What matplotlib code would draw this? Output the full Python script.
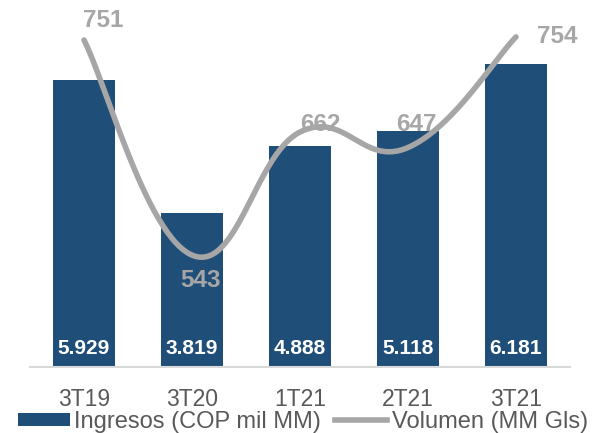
import numpy as np
import matplotlib.pyplot as plt
from matplotlib.patches import Patch
from matplotlib.lines import Line2D

plt.rcParams['font.family'] = ['Liberation Sans', 'DejaVu Sans']

# Data
periodos = ['3T19', '3T20', '1T21', '2T21', '3T21']
ingresos = [5.929, 3.819, 4.888, 5.118, 6.181]
volumen = [751, 543, 662, 647, 754]
ingresos_txt = ['5.929', '3.819', '4.888', '5.118', '6.181']

azul = '#1F4E79'
gris = '#A6A6A6'
texto = '#595959'


def suavizar(xs, ys, n=60, k=0.21):
    # Excel-like smooth line: cubic Bezier segments with Catmull-Rom style control points
    p = np.column_stack([xs, ys]).astype(float)
    out = []
    for i in range(len(p) - 1):
        p0 = p[i - 1] if i > 0 else p[i]
        p1, p2 = p[i], p[i + 1]
        p3 = p[i + 2] if i + 2 < len(p) else p[i + 1]
        c1 = p1 + (p2 - p0) * k
        c2 = p2 - (p3 - p1) * k
        t = np.linspace(0, 1, n)[:, None]
        seg = (1 - t) ** 3 * p1 + 3 * (1 - t) ** 2 * t * c1 + 3 * (1 - t) * t ** 2 * c2 + t ** 3 * p2
        out.append(seg)
    out = np.vstack(out)
    return out[:, 0], out[:, 1]


fig = plt.figure(figsize=(5.94, 4.33), dpi=100)
ax = fig.add_axes([30 / 594, 66 / 433, 540 / 594, 357 / 433])
x = np.arange(len(periodos))

ax.bar(x, ingresos, width=0.57, color=azul, zorder=2)
ax.set_xlim(-0.5, 4.5)
ax.set_ylim(1.374, 7.04)
for xi, v, t in zip(x, ingresos, ingresos_txt):
    ax.annotate(t, (xi, 1.374), xytext=(0, 18), textcoords='offset pixels',
                ha='center', va='center', color='white', fontsize=15, fontweight='bold', zorder=4)

ax2 = ax.twinx()
ax2.set_ylim(434.8, 780)
sx, sy = suavizar(x, volumen)
ax2.plot(sx, sy, color=gris, lw=4.0, solid_capstyle='round', zorder=3)
offsets = [(19, 19), (9, -25), (20, 8), (8, 23), (41, 0)]
for xi, v, off in zip(x, volumen, offsets):
    ax2.annotate(str(v), (xi, v), xytext=off, textcoords='offset pixels',
                 ha='center', va='center', color=gris, fontsize=17.5, fontweight='bold')

for a in (ax, ax2):
    for s in ('top', 'left', 'right'):
        a.spines[s].set_visible(False)
    a.set_yticks([])
ax2.spines['bottom'].set_visible(False)
ax.spines['bottom'].set_color('#D9D9D9')
ax.spines['bottom'].set_linewidth(1.5)
ax.set_xticks(x)
ax.set_xticklabels(periodos, fontsize=16.5, color=texto)
ax.tick_params(axis='x', length=0, pad=15)

handles = [Patch(facecolor=azul, label='Ingresos (COP mil MM)'),
           Line2D([0], [0], color=gris, lw=4.0, label='Volumen (MM Gls)')]
fig.legend(handles=handles, loc='center', bbox_to_anchor=(303 / 594, 11 / 433), ncol=2, frameon=False,
           fontsize=17, labelcolor=texto, handlelength=2.2, handletextpad=0.2, columnspacing=0.6,
           handleheight=0.5, borderpad=0, borderaxespad=0)

fig.savefig('out.png', dpi=100)
